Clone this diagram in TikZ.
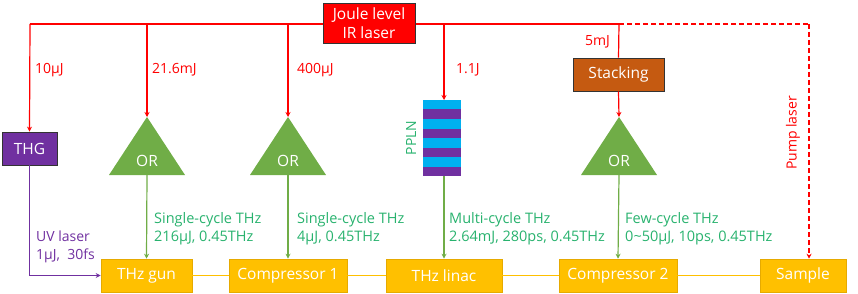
\documentclass[tikz,border=0pt]{standalone}
\usepackage{fontspec}
\setmainfont{Open Sans}
\usetikzlibrary{arrows.meta}
\definecolor{laserred}{RGB}{255,0,0}
\definecolor{orgreen}{RGB}{112,173,71}
\definecolor{lblgreen}{RGB}{40,178,110}
\definecolor{thgpurple}{RGB}{112,48,160}
\definecolor{boxyellow}{RGB}{255,192,0}
\definecolor{boxyellowdk}{RGB}{230,170,0}
\definecolor{stackbrown}{RGB}{197,90,17}
\definecolor{pcyan}{RGB}{0,176,240}
\tikzset{
  redline/.style={draw=laserred, line width=1.2pt},
  redarrow/.style={redline, -{Stealth[length=5pt,width=5pt]}},
  greenarrow/.style={draw=orgreen, line width=1.2pt, -{Stealth[length=5pt,width=5pt]}},
  linkline/.style={draw=boxyellow, line width=1.6pt},
  beambox/.style={fill=boxyellow, draw=boxyellowdk, line width=0.6pt, text=white, font=\fontsize{15.5}{17}\selectfont, minimum height=33pt, inner sep=0pt},
  darkbox/.style={draw=black!80, line width=0.8pt, text=white, inner sep=0pt},
  redlbl/.style={text=laserred, font=\fontsize{14}{16}\selectfont, inner sep=0pt},
  greenlbl/.style={text=lblgreen, font=\fontsize{14.5}{18}\selectfont, align=left, inner sep=0pt},
  orfill/.style={fill=orgreen},
  ortext/.style={text=white, font=\fontsize{15.5}{17}\selectfont, inner sep=0pt}
}
\begin{document}
\begin{tikzpicture}[x=1pt,y=-1pt]
\useasboundingbox (0,0) rectangle (858,294);
% bottom beamline boxes
\node[beambox, minimum width=91pt] (gun) at (146.5,275.5) {THz gun};
\node[beambox, minimum width=118pt] (comp1) at (288,275.5) {Compressor 1};
\node[beambox, minimum width=116pt] (linac) at (444,275.5) {THz linac};
\node[beambox, minimum width=118pt] (comp2) at (618,275.5) {Compressor 2};
\node[beambox, minimum width=86pt] (sample) at (803,275.5) {Sample};
\draw[linkline] (gun.east) -- (comp1.west);
\draw[linkline] (comp1.east) -- (linac.west);
\draw[linkline] (linac.east) -- (comp2.west);
\draw[linkline] (comp2.east) -- (sample.west);
% top laser distribution
\coordinate (b1) at (30,24);
\coordinate (b2) at (147,24);
\coordinate (b3) at (288,24);
\coordinate (b4) at (444,24);
\coordinate (b5) at (619,24);
\coordinate (pc) at (809,24);
\draw[redline] (b1) -- (b5);
\draw[redline, dash pattern=on 5pt off 3pt] (b5) -- (pc);
\draw[redline, dash pattern=on 5pt off 3pt, -{Stealth[length=5pt,width=5pt]}] (pc) -- (pc |- sample.north);
\node[darkbox, fill=laserred, minimum width=92pt, minimum height=40pt, align=center, font=\fontsize{15.5}{19}\selectfont] (joule) at (369,23) {Joule level\\IR laser};
% THG
\node[darkbox, fill=thgpurple, minimum width=55pt, minimum height=33pt, font=\fontsize{15.5}{17}\selectfont] (thg) at (29.5,148.5) {THG};
\draw[redarrow] (b1) -- (thg.north);
% OR triangles
\fill[orfill] (147,117) -- (109,175) -- (185,175) -- cycle;
\node[ortext] (or1) at (147,161) {OR};
\coordinate (or1b) at (147,175);
\fill[orfill] (288,117) -- (250,175) -- (326,175) -- cycle;
\node[ortext] (or2) at (288,161) {OR};
\coordinate (or2b) at (288,175);
\fill[orfill] (619,117) -- (581,175) -- (657,175) -- cycle;
\node[ortext] (or3) at (619,161) {OR};
\coordinate (or3b) at (619,175);
\coordinate (or1t) at (147,117);
\coordinate (or2t) at (288,117);
\coordinate (or3t) at (619,117);
\draw[redarrow] (b2) -- (or1t);
\draw[redarrow] (b3) -- (or2t);
% PPLN
\foreach \i in {0,...,7} {
  \pgfmathsetmacro{\ya}{100+\i*9.5}
  \pgfmathsetmacro{\yb}{100+(\i+1)*9.5}
  \ifodd\i \fill[thgpurple] (423,\ya) rectangle (461,\yb); \else \fill[pcyan] (423,\ya) rectangle (461,\yb); \fi
}
\coordinate (pplnt) at (444,100);
\coordinate (pplnb) at (444,176);
\node[text=lblgreen, rotate=90, font=\fontsize{14}{16}\selectfont, inner sep=0pt] (pplnlbl) at (411,138) {PPLN};
\draw[redarrow] (b4) -- (pplnt);
% Stacking
\node[darkbox, fill=stackbrown, minimum width=91pt, minimum height=33pt, font=\fontsize{15.5}{17}\selectfont] (stack) at (618.5,74.5) {Stacking};
\draw[redline] (b5) -- (stack.north);
\draw[redarrow] (stack.south) -- (or3t);
% green THz arrows
\draw[greenarrow] (or1b) -- (gun.north);
\draw[greenarrow] (or2b) -- (comp1.north);
\draw[greenarrow] (pplnb) -- (linac.north);
\draw[greenarrow] (or3b) -- (comp2.north);
% UV laser
\draw[draw=thgpurple, line width=1.2pt, -{Stealth[length=5pt,width=5pt]}] (thg.south) |- (gun.west);
% red labels
\node[redlbl, anchor=west] (l1) at (35,70) {10µJ};
\node[redlbl, anchor=west] (l2) at (152,70) {21.6mJ};
\node[redlbl, anchor=west] (l3) at (297,70) {400µJ};
\node[redlbl, anchor=west] (l4) at (456,70) {1.1J};
\node[redlbl, anchor=east] (l5) at (610,42) {5mJ};
\node[redlbl, rotate=90] (pump) at (793,133) {Pump laser};
% green labels
\node[greenlbl, anchor=west] (g1) at (154,229) {Single-cycle THz\\216µJ, 0.45THz};
\node[greenlbl, anchor=west] (g2) at (297,229) {Single-cycle THz\\4µJ, 0.45THz};
\node[greenlbl, anchor=west] (g3) at (449,229) {Multi-cycle THz\\2.64mJ, 280ps, 0.45THz};
\node[greenlbl, anchor=west] (g4) at (625,229) {Few-cycle THz\\0\textasciitilde50µJ, 10ps, 0.45THz};
% UV label
\node[greenlbl, text=thgpurple, font=\fontsize{14}{18}\selectfont, anchor=west] (uv) at (36,246.5) {UV laser\\1µJ,\ \ 30fs};
\end{tikzpicture}
\end{document}
